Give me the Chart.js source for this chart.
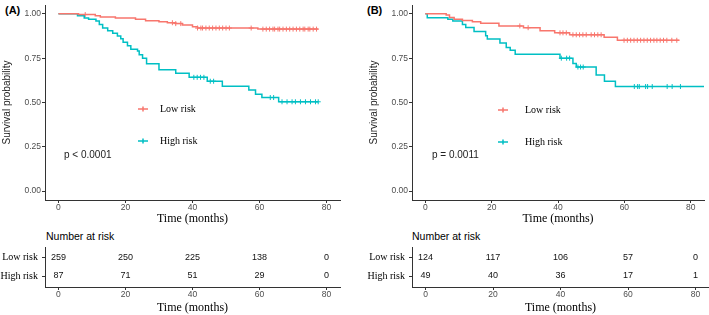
<!DOCTYPE html>
<html>
<head>
<meta charset="utf-8">
<script src="https://cdn.jsdelivr.net/npm/chart.js@4.4.1/dist/chart.umd.min.js"></script>
<style>
body{margin:0;width:709px;height:315px;overflow:hidden;background:#fff;position:relative;font-family:"Liberation Sans",Arial,sans-serif}
.box{position:absolute}
.tag{position:absolute;font-weight:bold;font-size:11px;line-height:12px;color:#000}
.nar{position:absolute;font-size:10.5px;line-height:12px;color:#000}
</style>
</head>
<body>
<div class="tag" style="left:5px;top:4px">(A)</div>
<div class="tag" style="left:367px;top:4px">(B)</div>
<div class="box" style="left:0;top:0;width:355px;height:226px"><canvas id="kmA"></canvas></div>
<div class="box" style="left:367px;top:0;width:342px;height:226px"><canvas id="kmB"></canvas></div>
<div class="nar" style="left:46px;top:230px">Number at risk</div>
<div class="nar" style="left:412px;top:230px">Number at risk</div>
<div class="box" style="left:0;top:240px;width:355px;height:75px"><canvas id="riskA"></canvas></div>
<div class="box" style="left:367px;top:240px;width:342px;height:75px"><canvas id="riskB"></canvas></div>
<script>
const RED = '#F8766D', CYAN = '#00BFC4';
const SANS = '"Liberation Sans", Arial, sans-serif';
const SERIF = '"Liberation Serif", "Times New Roman", serif';

const xTicks = [0, 20, 40, 60, 80];
const yTicks = [0, 0.25, 0.5, 0.75, 1];
const riskTimes = [0, 20, 40, 60, 80];

// panel A
const lowA_t = [0, 6, 11, 12.5, 17, 23, 26, 30, 32.5, 35, 37, 40, 41.5, 59.5, 77.5];
const lowA_s = [1, 0.996, 0.99, 0.982, 0.977, 0.969, 0.961, 0.955, 0.95, 0.945, 0.937, 0.928, 0.92, 0.914, 0.914];
const lowA_cens = [8, 34, 35, 36.5, 41.5, 42.5, 43, 44, 45, 46, 47, 48, 49, 50, 51, 57.5, 61, 62, 63, 64, 64.5, 65.5, 66, 67, 68, 69, 70, 71, 72, 73, 73.5, 74.5, 75, 76, 77];
const highA_t = [0, 5.7, 7.7, 9, 11.2, 12.2, 13.2, 14.7, 16.2, 17.6, 18.6, 19.3, 20.6, 21.6, 23.6, 24.1, 25.1, 26.3, 30, 35, 39, 44.4, 48.9, 56.8, 58.8, 60.7, 65.7, 77.5];
const highA_s = [1, 0.99, 0.977, 0.97, 0.96, 0.94, 0.92, 0.905, 0.89, 0.875, 0.86, 0.84, 0.82, 0.80, 0.79, 0.77, 0.75, 0.718, 0.685, 0.665, 0.642, 0.62, 0.592, 0.57, 0.546, 0.528, 0.504, 0.504];
const highA_cens = [40.4, 41.4, 42.4, 43.4, 45.3, 46.3, 63.2, 64.2, 66.7, 68.2, 69.7, 70.7, 72.2, 73.7, 75.2, 76.7, 77.5];
const riskLowA = [259, 250, 225, 138, 0];
const riskHighA = [87, 71, 51, 29, 0];

// panel B
const lowB_t = [0, 6.3, 7.3, 8.7, 11.2, 14.2, 16.7, 22.2, 29.6, 34.6, 39, 43.5, 53.9, 57.9, 76.6];
const lowB_s = [1, 0.993, 0.98, 0.969, 0.963, 0.956, 0.947, 0.932, 0.922, 0.905, 0.893, 0.882, 0.868, 0.851, 0.851];
const lowB_cens = [28.5, 31, 40.6, 41.5, 42.5, 44.5, 45.5, 46.5, 47.5, 48.5, 50, 51, 52, 53, 59.9, 60.9, 61.9, 62.9, 63.9, 64.9, 65.9, 66.9, 67.9, 68.9, 69.8, 70.8, 71.8, 72.8, 74.3, 75.8];
const highB_t = [0, 0.6, 6.8, 8.3, 11.2, 12.2, 14.7, 18.2, 18.7, 22.5, 24.4, 25.6, 27.1, 40.6, 44.5, 45.5, 51.5, 54, 57.3, 86];
const highB_s = [1, 0.978, 0.969, 0.96, 0.94, 0.923, 0.90, 0.877, 0.858, 0.835, 0.81, 0.795, 0.772, 0.75, 0.72, 0.70, 0.655, 0.62, 0.59, 0.59];
const highB_cens = [41, 42.6, 43.5, 46, 46.8, 47.6, 63, 64, 64.5, 66.4, 67, 68.4, 72.9, 74.4, 76.9];
const riskLowB = [124, 117, 106, 57, 0];
const riskHighB = [49, 40, 36, 17, 1];

function levelAt(ts, ss, t) {
  let v = ss[0];
  for (let i = 0; i < ts.length; i++) if (ts[i] <= t) v = ss[i];
  return v;
}

const insideText = {
  id: 'insideText',
  afterDatasetsDraw(chart, args, o) {
    const ctx = chart.ctx;
    ctx.save();
    ctx.textBaseline = 'middle';
    [0, 1].forEach(i => {
      const ds = chart.data.datasets[i], y = o.ys[i];
      ctx.strokeStyle = ds.borderColor; ctx.lineWidth = 1.5;
      ctx.beginPath();
      ctx.moveTo(o.x, y); ctx.lineTo(o.x + 10, y);
      ctx.moveTo(o.x + 5, y - 2.5); ctx.lineTo(o.x + 5, y + 2.5);
      ctx.stroke();
      ctx.fillStyle = '#000'; ctx.font = '10px ' + SERIF;
      ctx.fillText(ds.label, o.textX, y);
    });
    ctx.fillStyle = '#222'; ctx.font = '10px ' + SANS;
    ctx.fillText(o.p, o.pX, o.pY);
    ctx.restore();
  }
};

const riskText = {
  id: 'riskText',
  afterDatasetsDraw(chart) {
    const ctx = chart.ctx;
    ctx.save();
    ctx.font = '9px ' + SANS; ctx.fillStyle = '#111';
    ctx.textAlign = 'center'; ctx.textBaseline = 'middle';
    chart.data.datasets.forEach((ds, i) => {
      chart.getDatasetMeta(i).data.forEach((pt, j) => ctx.fillText(ds.data[j].n, pt.x, pt.y));
    });
    ctx.restore();
  }
};

function xScale(h) {
  return {
    type: 'linear', min: -4, max: 84,
    afterBuildTicks: s => { s.ticks = xTicks.map(v => ({value: v})); },
    afterFit: s => { s.height = h; s.paddingLeft = 0; s.paddingRight = 0; },
    grid: {drawOnChartArea: false, tickLength: 3, tickColor: '#333'},
    border: {color: '#333', width: 1},
    ticks: {font: {family: SANS, size: 8.5}, color: '#4d4d4d', padding: 0, maxRotation: 0, autoSkip: false},
    title: {display: true, text: 'Time (months)', font: {family: SERIF, size: 12}, color: '#000', padding: 0}
  };
}

function kmChart(id, low, high, lowC, highC, leg) {
  const pts = (ts, ss) => ts.map((t, i) => ({x: t, y: ss[i]}));
  const cens = (c, ts, ss) => c.map(t => ({x: t, y: levelAt(ts, ss, t)}));
  return new Chart(document.getElementById(id), {
    type: 'scatter',
    data: {datasets: [
      {label: 'Low risk', data: pts(low[0], low[1]), showLine: true, stepped: 'before', borderColor: RED, borderWidth: 1.5, pointRadius: 0},
      {label: 'High risk', data: pts(high[0], high[1]), showLine: true, stepped: 'before', borderColor: CYAN, borderWidth: 1.5, pointRadius: 0},
      {label: 'lc', data: cens(lowC, low[0], low[1]), pointStyle: 'cross', pointRadius: 2.5, borderColor: RED, borderWidth: 1},
      {label: 'hc', data: cens(highC, high[0], high[1]), pointStyle: 'cross', pointRadius: 2.5, borderColor: CYAN, borderWidth: 1}
    ]},
    options: {
      responsive: true, maintainAspectRatio: false, animation: false,
      layout: {padding: {top: 0, right: leg.padRight, bottom: 0, left: 0}},
      plugins: {legend: {display: false}, tooltip: {enabled: false}, insideText: leg},
      scales: {
        x: xScale(26),
        y: {
          min: -0.05, max: 1.05,
          afterBuildTicks: s => { s.ticks = yTicks.map(v => ({value: v})); },
          afterFit: s => { s.width = 45; s.paddingTop = 0; s.paddingBottom = 0; },
          grid: {drawOnChartArea: false, tickLength: 3, tickColor: '#333'},
          border: {color: '#333', width: 1},
          ticks: {font: {family: SANS, size: 8.5}, color: '#4d4d4d', padding: 1, callback: v => Number(v).toFixed(2)},
          title: {display: true, text: 'Survival probability', font: {family: SANS, size: 10}, color: '#222', padding: {top: 1, bottom: 0}}
        }
      }
    },
    plugins: [insideText]
  });
}

function riskChart(id, lowN, highN, padRight) {
  return new Chart(document.getElementById(id), {
    type: 'scatter',
    data: {datasets: [
      {label: 'Low risk', data: riskTimes.map((t, i) => ({x: t, y: 2, n: lowN[i]})), pointRadius: 0},
      {label: 'High risk', data: riskTimes.map((t, i) => ({x: t, y: 1, n: highN[i]})), pointRadius: 0}
    ]},
    options: {
      responsive: true, maintainAspectRatio: false, animation: false,
      layout: {padding: {top: 7, right: padRight, bottom: 0, left: 0}},
      plugins: {legend: {display: false}, tooltip: {enabled: false}},
      scales: {
        x: xScale(28),
        y: {
          min: 0.42, max: 2.53,
          afterBuildTicks: s => { s.ticks = [1, 2].map(v => ({value: v})); },
          afterFit: s => { s.width = 45; s.paddingTop = 0; s.paddingBottom = 0; },
          grid: {drawOnChartArea: false, tickLength: 3, tickColor: '#333'},
          border: {color: '#333', width: 1},
          ticks: {font: {family: SERIF, size: 10}, color: '#000', padding: 4, callback: v => v === 2 ? 'Low risk' : 'High risk'}
        }
      }
    },
    plugins: [riskText]
  });
}

kmChart('kmA', [lowA_t, lowA_s], [highA_t, highA_s], lowA_cens, highA_cens,
  {padRight: 15, x: 138, ys: [109, 141], textX: 160, p: 'p < 0.0001', pX: 64, pY: 155});
kmChart('kmB', [lowB_t, lowB_s], [highB_t, highB_s], lowB_cens, highB_cens,
  {padRight: 0, x: 131, ys: [110, 142], textX: 158, p: 'p = 0.0011', pX: 65, pY: 155});
riskChart('riskA', riskLowA, riskHighA, 15);
riskChart('riskB', riskLowB, riskHighB, 0);
</script>
</body>
</html>
